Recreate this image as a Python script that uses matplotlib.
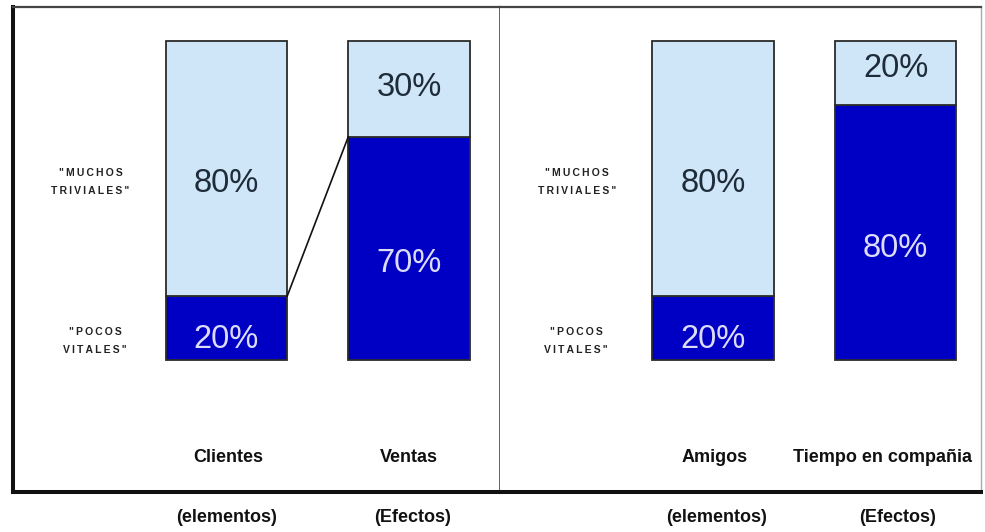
#!/usr/bin/env python3

import matplotlib
matplotlib.use("Agg")
import matplotlib.pyplot as plt

# data: share of "pocos vitales" (dark, bottom) and "muchos triviales" (light, top)
left_categories = ["Clientes", "Ventas"]
left_vital = [20, 70]
left_trivial = [80, 30]

right_categories = ["Amigos", "Tiempo en compañia"]
right_vital = [20, 80]
right_trivial = [80, 20]

sub_labels = ["(elementos)", "(Efectos)"]

LIGHT = "#cfe6f8"
DARK = "#0000c4"
EDGE = "#2b2b2b"
TXT_LIGHT = "#1e2c3a"
TXT_DARK = "#dcdcfa"

plt.rcParams['font.family'] = ['Liberation Sans', 'DejaVu Sans']

fig = plt.figure(figsize=(9.85, 5.32), dpi=100)
fig.patch.set_facecolor("white")

W = 985.0
H = 532.0
box_bottom = 492
box_top = 7
ax_l = fig.add_axes([13 / W, (H - box_bottom) / H, 487 / W, (box_bottom - box_top) / H])
ax_r = fig.add_axes([500 / W, (H - box_bottom) / H, 481 / W, (box_bottom - box_top) / H])

bar_w = 0.665
ylim = (-41.4, 110.7)


def spaced(s):
    # the side labels are drawn with wide letter spacing
    return "\u2009".join(s)


def draw_panel(ax, cats, vital, trivial, xlim, cat_x, sub_x, label_x, tv_y):
    xs = list(range(len(cats)))
    ax.bar(xs, vital, width=bar_w, color=DARK, edgecolor=EDGE, linewidth=1.3, zorder=2)
    ax.bar(xs, trivial, width=bar_w, bottom=vital, color=LIGHT, edgecolor=EDGE,
           linewidth=1.3, zorder=2)
    for x, v, t, (yv, yt) in zip(xs, vital, trivial, tv_y):
        ax.text(x, yv, f"{v}%", ha="center", va="center", fontsize=23.5, color=TXT_DARK, zorder=3)
        ax.text(x, yt, f"{t}%", ha="center", va="center", fontsize=23.5, color=TXT_LIGHT, zorder=3)
    for c, cx in zip(cats, cat_x):
        ax.text(cx, -30.7, c, ha="center", va="center", fontsize=13, fontweight="bold",
                color="#111111")
    for s, sx in zip(sub_labels, sub_x):
        ax.text(sx, -49.5, s, ha="center", va="center", fontsize=13, fontweight="bold",
                color="#111111", clip_on=False)
    ax.text(label_x[0], 55.8, spaced('"MUCHOS') + "\n" + spaced('TRIVIALES"'),
            ha="center", va="center", fontsize=7.5, fontweight="bold", linespacing=2.0,
            color="#222222")
    ax.text(label_x[1], 6.0, spaced('"POCOS') + "\n" + spaced('VITALES"'),
            ha="center", va="center", fontsize=7.5, fontweight="bold", linespacing=2.0,
            color="#222222")
    ax.set_xlim(*xlim)
    ax.set_ylim(*ylim)
    ax.set_xticks([])
    ax.set_yticks([])


draw_panel(ax_l, left_categories, left_vital, left_trivial,
           xlim=(-1.170, 1.499), cat_x=[0.01, 1.0], sub_x=[0.0, 1.02],
           label_x=[-0.745, -0.72], tv_y=[(6.3, 55.5), (30.4, 85.6)])
draw_panel(ax_r, right_categories, right_vital, right_trivial,
           xlim=(-1.167, 1.468), cat_x=[0.01, 0.93], sub_x=[0.02, 1.01],
           label_x=[-0.745, -0.75], tv_y=[(6.3, 55.5), (35.0, 91.5)])

# connector between the "pocos vitales" tops on the left panel
ax_l.plot([bar_w / 2, 1 - bar_w / 2], [left_vital[0], left_vital[1]],
          color="#111111", linewidth=1.2, zorder=4)

# frame
for ax in (ax_l, ax_r):
    ax.spines["bottom"].set_linewidth(2.9)
    ax.spines["bottom"].set_color("#111111")
    ax.spines["top"].set_linewidth(1.6)
    ax.spines["top"].set_color("#444444")
ax_l.spines["left"].set_linewidth(2.9)
ax_l.spines["left"].set_color("#111111")
ax_l.spines["right"].set_linewidth(1.3)
ax_l.spines["right"].set_color("#555555")
ax_r.spines["left"].set_visible(False)
ax_r.spines["right"].set_linewidth(1.0)
ax_r.spines["right"].set_color("#aaaaaa")

fig.savefig("out.png", dpi=100, facecolor="white")
